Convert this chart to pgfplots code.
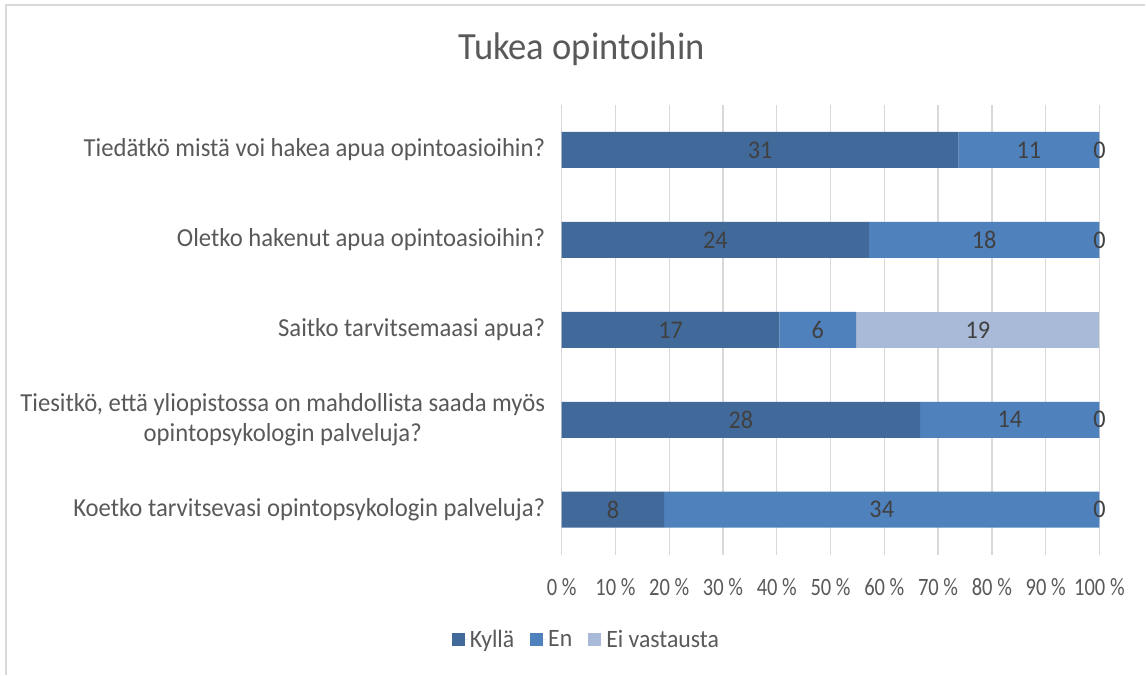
\documentclass[border=0pt]{standalone}
\usepackage{fontspec}
\setmainfont{Carlito}[FakeStretch=0.95]
\newfontfamily\tickfont{Carlito}[FakeStretch=0.82]
\usepackage{pgfplots}
\pgfplotsset{compat=1.18}
\definecolor{cK}{HTML}{416A9B}
\definecolor{cE}{HTML}{4F81BD}
\definecolor{cN}{HTML}{A9BAD8}
\definecolor{txt}{HTML}{595959}
\definecolor{lab}{HTML}{404040}
\definecolor{grd}{HTML}{D9D9D9}
\begin{document}
\begin{tikzpicture}[x=1pt,y=1pt]
\path (0,0) rectangle (1146,675);
\draw[grd, line width=1.2pt] (6,0) -- (6,670) -- (1146,670);
\node[text=txt, font=\fontsize{38.5}{46}\selectfont] at (582,626) {Tukea opintoihin};
\begin{axis}[
  at={(562pt,120pt)}, anchor=south west,
  scale only axis, width=538pt, height=450pt,
  xbar stacked, bar width=36pt,
  xmin=0, xmax=100, ymin=-0.5, ymax=4.5,
  axis line style={draw=none},
  major tick style={draw=none},
  xmajorgrids, grid style={grd, line width=1.3pt},
  xtick={0,10,...,100},
  xticklabels={0 \%,10 \%,20 \%,30 \%,40 \%,50 \%,60 \%,70 \%,80 \%,90 \%,100 \%},
  xticklabel style={font=\tickfont\fontsize{25}{30}\selectfont, text=txt, yshift=-20pt},
  ytick={0,1,2,3,4},
  yticklabels={Koetko tarvitsevasi opintopsykologin palveluja?,
    {Tiesitkö, että yliopistossa on mahdollista saada myös\\opintopsykologin palveluja?},
    Saitko tarvitsemaasi apua?,
    Oletko hakenut apua opintoasioihin?,
    Tiedätkö mistä voi hakea apua opintoasioihin?},
  yticklabel style={font=\fontsize{26}{30}\selectfont, text=txt, align=center, xshift=-13pt},
  legend columns=3,
  legend style={at={(0.046,-0.189)}, anchor=center, draw=none, fill=none,
    font=\fontsize{25}{30}\selectfont, text=txt,
    /tikz/every even column/.append style={column sep=14pt}},
  legend image code/.code={\fill[#1] (0pt,-6.5pt) rectangle (13pt,6.5pt); \path (0pt,0pt) -- (16pt,0pt);},
]
\addplot[fill=cK, draw=none] coordinates {(19.05,0) (66.67,1) (40.48,2) (57.14,3) (73.81,4)};
\addplot[fill=cE, draw=none] coordinates {(80.95,0) (33.33,1) (14.29,2) (42.86,3) (26.19,4)};
\addplot[fill=cN, draw=none] coordinates {(0,0) (0,1) (45.24,2) (0,3) (0,4)};
\legend{Kyllä, En, Ei vastausta}
\end{axis}
\begin{axis}[
  at={(562pt,120pt)}, anchor=south west,
  scale only axis, width=538pt, height=450pt,
  xmin=0, xmax=100, ymin=-0.5, ymax=4.5, hide axis,
]
\addplot[only marks, mark=*, mark size=0pt,
  nodes near coords, point meta=explicit symbolic,
  every node near coord/.style={anchor=center, inner sep=0pt, text=lab, font=\fontsize{25.5}{30}\selectfont}]
  table[meta=l] {
x y l
9.52 0 8
59.52 0 34
100 0 0
33.33 1 28
83.33 1 14
100 1 0
20.24 2 17
47.62 2 6
77.38 2 19
28.57 3 24
78.57 3 18
100 3 0
36.90 4 31
86.90 4 11
100 4 0
};
\end{axis}
\end{tikzpicture}
\end{document}
